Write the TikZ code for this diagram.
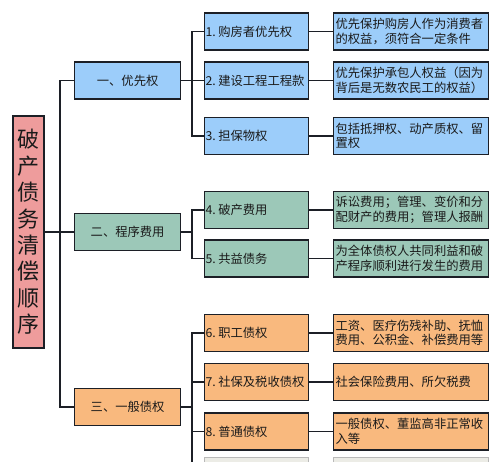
\documentclass[tikz,border=0pt]{standalone}
\usepackage{fontspec}
\setmainfont{Noto Sans CJK SC}
\newcommand{\nsp}{\hspace{2.5pt}}
\begin{document}
\begin{tikzpicture}[x=1pt,y=-1pt,
  every node/.style={font=\fontsize{12.3}{14.5}\selectfont, text=txt},
  box/.style={draw=linec, line width=1.2pt, minimum height=37pt, anchor=west},
  lvone/.style={box, minimum width=106pt, inner sep=0pt, align=center},
  lvtwo/.style={box, text width=102pt, inner xsep=1pt, inner ysep=0pt, align=left},
  lvthree/.style={box, text width=151pt, inner xsep=2pt, inner ysep=0pt, align=left},
  conn/.style={draw=linec, line width=1.2pt},
  cblue/.style={fill=boxblue}, cteal/.style={fill=boxteal}, corange/.style={fill=boxorange}]
\definecolor{linec}{HTML}{1C1F26}
\definecolor{txt}{HTML}{1A1A1A}
\definecolor{boxblue}{HTML}{9CCDFA}
\definecolor{boxteal}{HTML}{9CC8B8}
\definecolor{boxorange}{HTML}{F9B97E}
\definecolor{boxpink}{HTML}{EE9C9C}
\definecolor{boxgrey}{HTML}{ECECE6}
\useasboundingbox (0,0) rectangle (500,462);
\clip (0,0) rectangle (500,462);
\fill[white] (0,0) rectangle (500,462);

% root
\node[draw=linec, line width=1.2pt, fill=boxpink, minimum width=31pt, minimum height=232pt,
  inner sep=0pt, align=center, font=\fontsize{22}{26.4}\selectfont] (root) at (28.5,232)
  {破\\产\\债\\务\\清\\偿\\顺\\序};

% level 1
\node[lvone, cblue] (g1) at (74,80.5) {一、优先权};
\node[lvone, cteal] (g2) at (74,232) {二、程序费用};
\node[lvone, corange] (g3) at (74,407) {三、一般债权};

% level 2
\node[lvtwo, cblue] (a1) at (204,31.5) {1.\nsp 购房者优先权};
\node[lvtwo, cblue] (a2) at (204,80.5) {2.\nsp 建设工程工程款};
\node[lvtwo, cblue] (a3) at (204,136) {3.\nsp 担保物权};
\node[lvtwo, cteal] (a4) at (204,210) {4.\nsp 破产费用};
\node[lvtwo, cteal] (a5) at (204,258.5) {5.\nsp 共益债务};
\node[lvtwo, corange] (a6) at (204,333) {6.\nsp 职工债权};
\node[lvtwo, corange] (a7) at (204,382) {7.\nsp 社保及税收债权};
\node[lvtwo, corange] (a8) at (204,431.5) {8.\nsp 普通债权};
\node[box, draw=gray!55, line width=1pt, fill=boxgrey, minimum width=104pt] (a9) at (204,476) {};

% level 3
\node[lvthree, cblue] (b1) at (333,31.5) {优先保护购房人作为消费者\\的权益，须符合一定条件};
\node[lvthree, cblue] (b2) at (333,80.5) {优先保护承包人权益（因为\\背后是无数农民工的权益）};
\node[lvthree, cblue] (b3) at (333,136) {包括抵押权、动产质权、留\\置权};
\node[lvthree, cteal] (b4) at (333,210) {诉讼费用；管理、变价和分\\配财产的费用；管理人报酬};
\node[lvthree, cteal] (b5) at (333,258.5) {为全体债权人共同利益和破\\产程序顺利进行发生的费用};
\node[lvthree, corange] (b6) at (333,333) {工资、医疗伤残补助、抚恤\\费用、公积金、补偿费用等};
\node[lvthree, corange] (b7) at (333,382) {社会保险费用、所欠税费};
\node[lvthree, corange] (b8) at (333,431.5) {一般债权、董监高非正常收\\入等};
\node[box, draw=gray!55, line width=1pt, fill=boxgrey, minimum width=155pt] (b9) at (333,476) {};

% trunk
\draw[conn] (root.east) -- (g2.west);
\coordinate (t1) at ([xshift=-14pt]g1.west);
\draw[conn] (g1.west) -- (t1) |- (g3.west);

% group connectors
\coordinate (s1) at ([xshift=-12pt]a1.west);
\coordinate (s2) at ([xshift=-12pt]a4.west);
\coordinate (s3) at ([xshift=-12pt]a6.west);
\draw[conn] (a1.west) -- (s1) |- (a3.west);
\draw[conn] (g1.east) -- (a2.west);
\draw[conn] (a4.west) -- (s2) |- (a5.west);
\draw[conn] (g2.east) -- (g2.east -| s2);
\draw[conn] (a6.west) -- (s3) |- (a9.west);
\draw[conn] (g3.east) -- (g3.east -| s3);
\draw[conn] (a7.west) -- (a7.west -| s3);
\draw[conn] (a8.west) -- (a8.west -| s3);

% level 2 to level 3
\foreach \i in {1,...,8} { \draw[conn] (a\i.east) -- (b\i.west); }
\end{tikzpicture}
\end{document}
